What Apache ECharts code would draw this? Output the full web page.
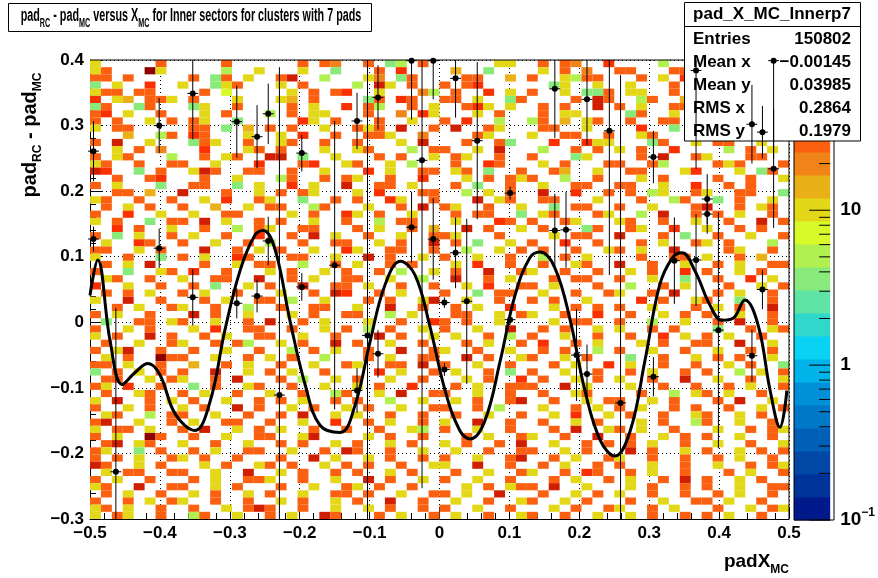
<!DOCTYPE html>
<html><head><meta charset="utf-8">
<script src="https://cdn.jsdelivr.net/npm/echarts@6/dist/echarts.min.js"></script>
<style>html,body{margin:0;padding:0;background:#fff}#c{width:878px;height:578px}</style>
</head><body><div id="c"></div>
<script>
// ---- data ----
const xTickLabels = ['-0.5','-0.4','-0.3','-0.2','-0.1','0','0.1','0.2','0.3','0.4','0.5'];
const yTickLabels = ['-0.3','-0.2','-0.1','0','0.1','0.2','0.3','0.4'];
// heat cells: one string per y bin (top to bottom), one char per x bin (64x64), char = colour band
const heatRows = [
"y.....r. ....r... ...r.ro. .r.gG.r. .....yy. .r.ro..R ....G... ........",
"yr...Dy. ....G..y ...y..g. ..r.R... .a..g... .y.r.o.. rr...rr. ........",
"rr.r.... .r.gr.y. .rd..G.. .yo.gr.. ..rr..a. r..yGrr. ..r.y.R. ........",
"g.y..R.. y..gyr.. .y.r.... G.dy.r.. r.rR.... ..gy..y. .y...r.. ........",
"yrr.rr.. ..r.Y... ..y.r.rR ..y...oG .r..R.y. r..y.ggr .yy..r.. ........",
"R.ya.rry .r...y.. .ya.r... .gr.Rr.. rr.y..gr ....r.dr ..Gr..a. ........",
"gr..gr.. .gy..r.. ..r.y..R .rG..r.y ..rRy.y. .r.r..d. r.y..rr. ........",
"rR.y..r. ..y.r... G.r.yy.. .r..o.Ry ...y.r.. .r.yy... .gr..y.r ........",
"r.r..y.r .ry..g.. ...Ry.r. ..r..y.. r.R..G.. Gr.a.yr. .r..rr.. .....rd.",
"y.rr.... .rr.g.a. r.r..y.. ryr.d..r .d..ry.. .rr..y.. ..R..g.r y..r..r.",
"...a..Gr .Rr...y. .y.R..r. .rry..o. ...ry... y..rr..r ..yr.... r...G.rr",
"r.d..y.. .gry..r. .yr..r.. r...y.d. ..r..rg. ..R..Ryy ...gr..y .rr..y..",
"..y.r.o. ..R...yr .r...y.. yr...G.r r..y.d.. .G..r.r. y.r..R.. ..G.r.y.",
"r.yr...G ..r.yr.. dd.g..y. ..r.r..y .ry..r.. r...gy.. ..r.d..r y...rr..",
"yr..r..r r..y...R ...rR..y r..y.G.. .r..Rr.. .y.r...r r..rG... .ryr...r",
"dR..g.r. .ydr..rr ..r..y.. .R.y..rr .yr.g..r ..ra..y. .rr...yR ...y.gr.",
"..r..rR. ..r..y.. .Gr..r.r y..r..R. ..y.r.ry r..G..r. ..y.r... .r..r..y",
"r.y...g. .rr..g.y ..R.y..d ..rr.y.. .r.g..r. .y..rr.. rr..y..R ..r.r...",
"..rr.a.. d...r..y .r.ry... y.R...rr ..G.y.r. .d..R..r .r.Gy..r y..rr..g",
"yr..r..r ..y.R..r y..g..r. r..Ry..r ...d.yr. .rr...y. ..r..Gr. .g.r..y.",
".r.y.r.. r..a..y. rr..Gr.. .y..r.d. ry..r..y ..g.rr.. r..y...r d..r.yr.",
"r..R..y. .y..rr.. ..y.r..R y.r..y.. .r.rr..g .yr...ry ..G.d..r .r.y..r.",
"y.r..g.r r.d.y..r .r..y..r ..G.rr.. .y...Rr. r..ry... yr..r..y ..r..d.r",
"..R.r..y ..r..G.r y..rr... r.y..r.a ..d.r..y .r...gr. .ry..R.. y..r.r..",
"r.g.y..r .y..r..R ..r.d.y. .r..y..r ry...r.. ..y.rr.. d...r.g. .r..y..r",
".y..Rr.. r..y..r. G..r..rr ..y.r..d .r.g..y. r..R..r. ..r.y..r y.r...G.",
"rr..y.r. ..d..r.y .r..y..R y..rr..r ..G..y.r .r..r..y r.y..d.. ..ry..r.",
"y..r..g. r.y..Rr. ..rr..y. .d.r..y. r..y..r. .G.r.y.. ..r..rr. y..r.a..",
".r.y.d.. ..r..y.r r..G..r. y..r.r.. .y.R..r. .r..yr.. d..r..y. .r.y..rr",
"r..g..yr .R..r... y.r..y.r ..r.G..y .r..d..r y..r..r. .y.r..R. r..y.r..",
".yr..r.. y..rr..d ..r.y..r r..y..G. .d..r.y. ..r.rr.. r..y..g. .r..R.y.",
"R..y..r. .r.g..y. r..d..rr .y..r..r ..y.R..r r.y...r. .G..r.y. ..r..y.r",
".r.r.y.. r.y..r.. .y..r.dR ..r.y... r..g.rr. .y..r..r y..r.d.. .r.y..r.",
"y..d..r. ..r.y..r r.G..y.. .r.r..yd ..y..r.. r.r..y.. ..R.r..y r..g..r.",
"..r.y..r y..r..G. .r..rr.. y..d..r. .r.y..R. ..y.r.r. r..y...r .y.r..d.",
"r.y..r.. .d.r..y. ..y.r..r r..G.y.. .rr..y.r y..r..R. .r..y.r. r..y..r.",
".g..rr.y r..y..r. d..r.y.. .y..r..R r.r..y.. ..y.rr.. r..G..y. .r.d..r.",
"r..y.r.. .y.R..rr ..r..y.r .G.r..y. r..y..d. .r.r..y. y..r.r.. .g..r.yr",
"y.r..d.r ..r.y..r r..y..r. ..d.r..y .y..r.G. r..y..r. .r..R.y. r.y..r..",
".r..y..r y..r.rG. .y.r..d. r..y..r. ..r.y..r .R..r.y. ..y.r..r r..d..y.",
"r.yd..r. .r..y..r ..G.r.y. .r..d..r y..r..y. .r.r..G. r..y..r. .y..r.r.",
".y.r..Dr r..y..r. y.r..G.. .r.y..rr ..d.r..y r..y.r.. .g..r..y .r.r..y.",
"rr.y..r. .a..r.y. .r..y..r y..rr.d. r..y..r. ..r.y..R .y..r..r ..y.r..g",
"g.r.y.r. r..d..y. r.y..r.. ..R.y..r .y..r.g. r..y..r. .r.y..r. r..G.y.r",
".rr..y.r y..r.d.. .r.G..y. r..y..r. ..y.r..R .r..y.r. y..r..d. .y..r..y",
"ry.R..r. .g.r..yr ..r..y.. y.r..R.. .r.y..rr r..d.y.. .y..r..r ..r.y..r",
".r..yr.. r.y..r.. y..r..Gr ..y.d..r r..y..r. .r..yr.. ..r..G.y r.y..r..",
"y.d..r.y .r..y..r .r.y..r. r..G..y. .y.r..rd ..r..y.r r..y.r.. .r.d..y.",
"r..y.r.. y.r..d.r ..y.r..y .r..y..r r..r.G.. .y..r.y. r.y..r.r ..r..y.r",
".yr..G.r r..y..r. .r.d..y. y..r..r. .r..y..r ..y.R..y .r..r..y r..y.r..",
"rd..y..r .y..rr.. r..y..R. .r.y..r. y..d..r. .r..y.r. ..y.r..G r..y..r.",
"y.rr.y.. r.d..y.r .y..r..r ..r..yG. r..y..r. ..r.d..y r.y..r.. .y..r.ry",
"r.y..Dr. .r..y..r r..yd... .y.r..r. ..r.y..r y..r..d. .r..y.r. r..y..r.",
".rd.yr.. y..r..y. .r.r..y. r..y.r.. y.r..r.d ..y..r.r .r.y..r. .y..r..y",
"ry..g.r. .r.y..rr ..y..r.d r..r..y. .y..r..r r..y.r.. .d.r..y. r..y.r.r",
"r.r.y..r y.r..r.. .r..d.y. .y.r..r. r..y..rd ..r.y..r y..r..r. .r.y..r.",
"dr..y.r. ..y.r..y r.r..y.r .r..r..y y..d..r. .r.y..r. r..y..r. .y..r.ry",
".y.rr..r r..y..d. .y.r..r. r..y.r.. .r..y..r y..r.Rr. .r.y..r. ..r.y..r",
"r.y..r.. .r.y..rr y..r..y. .d.r..y. r..y..r. ..r.y..r .y..r.d. r..y.r..",
"yr..d..r r..y.r.. .r..y..r y.r..r.. ..y.r.yr r.d..y.. .y.r..r. r..y..rr",
".r.y..r. .y.r..y. r..y..rr .r..y..r r.y..d.. .r..y.r. y..r..r. .r.y..r.",
"r..r.y.r y..r..r. .y.r..y. r..d..r. .y..r..y r..y.r.. .r..y..r r.y..r..",
"yr.y..r. .r..y.rd r..r..y. .y.r..r. r..y..r. ..y.r..r y..r.y.. .r..y.ry",
"y.ry..r. .Gr..y.. r.y..dr. ..r.y..r .y..r..y r..r..y. .y.r..r. r.y..r.."
];
// profile points: [x, mean, error]
const profX = [-0.495,-0.495,-0.463,-0.401,-0.401,-0.353,-0.353,-0.29,-0.29,-0.261,-0.261,-0.245,-0.245,-0.229,-0.197,-0.197,
 -0.15,-0.118,-0.118,-0.103,-0.088,-0.088,-0.04,-0.04,-0.025,-0.009,-0.009,0.007,0.007,0.023,0.023,0.039,0.054,0.101,0.101,
 0.165,0.165,0.181,0.196,0.211,0.211,0.243,0.259,0.306,0.306,0.336,0.367,0.367,0.383,0.383,0.399,0.447,0.447,0.462,0.462,0.478,0.478];
const profY = [0.261,0.127,-0.228,0.30,0.113,0.349,0.038,0.306,0.029,0.283,0.040,0.318,0.124,-0.111,0.258,0.054,
 0.087,0.307,-0.104,-0.020,0.343,-0.048,0.399,0.145,0.247,0.399,0.127,0.030,-0.072,0.372,0.106,0.032,0.277,0.197,0.004,
 0.356,0.140,0.141,-0.050,0.340,-0.079,0.292,-0.123,0.252,-0.083,0.094,0.384,0.095,0.188,0.165,-0.012,0.302,-0.051,0.290,0.050,0.234,0.399];
const profE = [0.046,0.019,0.25,0.042,0.03,0.07,0.043,0.055,0.023,0.048,0.025,0.046,0.037,0.5,0.028,0.021,
 0.22,0.043,0.034,0.5,0.049,0.036,0.09,0.054,0.5,0.059,0.062,0.008,0.01,0.06,0.054,0.126,0.12,0.01,0.008,
 0.075,0.056,0.058,0.07,0.07,0.045,0.22,0.5,0.04,0.03,0.066,0.15,0.07,0.038,0.03,0.18,0.06,0.04,0.04,0.03,0.09,0.15];
// fitted curve
const fitX = [-0.5,-0.489,-0.471,-0.454,-0.436,-0.417,-0.4,-0.378,-0.35,-0.328,-0.307,-0.285,-0.264,-0.252,-0.235,-0.214,-0.192,-0.171,-0.142,-0.121,-0.099,-0.078,-0.056,-0.035,-0.014,0.008,0.029,0.044,0.065,0.087,0.108,0.129,0.144,0.165,0.187,0.208,0.23,0.251,0.273,0.294,0.315,0.333,0.347,0.366,0.387,0.404,0.42,0.437,0.456,0.473,0.487,0.497];
const fitY = [0.041,0.095,-0.03,-0.095,-0.077,-0.063,-0.08,-0.14,-0.165,-0.12,-0.012,0.08,0.133,0.14,0.11,0.003,-0.096,-0.157,-0.168,-0.127,-0.028,0.057,0.093,0.072,-0.005,-0.104,-0.165,-0.178,-0.15,-0.058,0.041,0.098,0.107,0.083,0.003,-0.104,-0.18,-0.204,-0.165,-0.058,0.057,0.098,0.106,0.077,0.026,0.003,0.006,0.034,-0.005,-0.104,-0.16,-0.104];
const cbMinLog = -1, cbMaxLog = 1.97, nBands = 20;
const bandColors = ['#001a8c','#003399','#0047a6','#0060b8','#0078c8','#0090d8','#00b4ea','#0ad2f5','#30d8cc','#5ee4a4',
 '#88ea7a','#b0f050','#d8fa28','#e2d818','#eab018','#f08418','#fa6010','#fa3000','#d01e00','#8c0000'];
const charBand = {c:7,t:9,g:10,G:11,Y:12,y:13,a:14,o:15,r:16,R:17,d:18,D:19};
const statsRows = [['Entries','150802'],['Mean x','\u22120.00145'],['Mean y','0.03985'],['RMS x','0.2864'],['RMS y','0.1979']];

// ---- build ----
const NX = 64, NY = 64, X0 = -0.5, X1 = 0.5, Y0 = -0.3, Y1 = 0.4;
const dx = (X1-X0)/NX, dy = (Y1-Y0)/NY, bw = (cbMaxLog-cbMinLog)/nBands;
const heat = [];
heatRows.forEach((row, ri) => {
  const s = row.replace(/ /g,'');
  for (let i = 0; i < NX && i < s.length; i++) {
    const b = charBand[s[i]];
    if (b === undefined) continue;
    heat.push([i, NY-1-ri, Math.pow(10, cbMinLog + (b+0.5)*bw)]);
  }
});
function colorOf(v){ let b = Math.floor((Math.log10(v)-cbMinLog)/bw); b=Math.max(0,Math.min(nBands-1,b)); return bandColors[b]; }
const profData = profX.map((x,i)=>[x,profY[i],profE[i]]);
const fitData = fitX.map((x,i)=>[x,fitY[i]]);
const bands = bandColors.map((c,i)=>[i]);
const minorLog = [];
for (let d=-1; d<2; d++) for (let k=2;k<=9;k++){ const v=d+Math.log10(k); if(v<cbMaxLog) minorLog.push([v,0]); }
[-1,0,1].forEach(v=>minorLog.push([v,1]));

const F = '"Liberation Sans", Arial, sans-serif';
const chart = echarts.init(document.getElementById('c'), null, {renderer:'canvas'});
const axLab = {fontFamily:F, fontWeight:'bold', fontSize:17, color:'#000'};
const T = (x,y,text,extra)=>Object.assign({type:'text',x:x,y:y,z:100,style:Object.assign({fontFamily:F,fontWeight:'bold',fontSize:17,fill:'#000',text:text,verticalAlign:'middle'},extra||{})});
chart.setOption({
  animation:false,
  backgroundColor:'#fff',
  grid:[{left:90,top:60,width:699,height:459,show:false},{left:794,top:60,width:40,height:460,show:false}],
  xAxis:[{type:'value',gridIndex:0,min:-0.5,max:0.5,interval:0.1,
    axisLine:{onZero:false,lineStyle:{color:'#000',width:1}},
    axisTick:{inside:true,length:12,lineStyle:{color:'#000'}},
    minorTick:{show:true,splitNumber:5,length:6,lineStyle:{color:'#000'}},
    splitLine:{show:true,lineStyle:{color:'#000',type:[1,3],width:1}},
    axisLabel:Object.assign({margin:6,formatter:v=>{const i=Math.round((v+0.5)*10);return (xTickLabels[i]||'').replace('-','\u2212');}},axLab)},
   {type:'value',gridIndex:1,min:0,max:1,show:false}],
  yAxis:[{type:'value',gridIndex:0,min:-0.3,max:0.4,interval:0.1,
    axisLine:{onZero:false,lineStyle:{color:'#000',width:1}},
    axisTick:{inside:true,length:12,lineStyle:{color:'#000'}},
    minorTick:{show:true,splitNumber:5,length:6,lineStyle:{color:'#000'}},
    splitLine:{show:true,lineStyle:{color:'#000',type:[1,3],width:1}},
    axisLabel:Object.assign({margin:6,formatter:v=>{const i=Math.round((v+0.3)*10);return (yTickLabels[i]||'').replace('-','\u2212');}},axLab)},
   {type:'value',gridIndex:1,min:cbMinLog,max:cbMaxLog,position:'right',interval:1,
    axisLine:{show:false},axisTick:{show:false},splitLine:{show:false},
    axisLabel:{margin:10,showMaxLabel:false,fontFamily:F,fontWeight:'bold',fontSize:19,color:'#000',
      formatter:v=>v===-1?'10{s|\u22121}':(v===0?'1':(v===1?'10':'')),
      rich:{s:{fontSize:12,fontWeight:'bold',fontFamily:F,verticalAlign:'top',padding:[0,0,14,0]}}}}],
  series:[
   {type:'custom',xAxisIndex:0,yAxisIndex:0,data:heat,clip:true,z:1,
    renderItem:(p,api)=>{const i=api.value(0),j=api.value(1);
      const a=api.coord([X0+i*dx,Y0+(j+1)*dy]),b=api.coord([X0+(i+1)*dx,Y0+j*dy]);
      return {type:'rect',shape:{x:a[0],y:a[1],width:b[0]-a[0],height:b[1]-a[1]},style:{fill:colorOf(api.value(2))}};}},
   {type:'line',xAxisIndex:0,yAxisIndex:0,data:fitData,smooth:0.4,symbol:'none',z:5,lineStyle:{color:'#000',width:3}},
   {type:'custom',xAxisIndex:1,yAxisIndex:1,data:bands,z:2,
    renderItem:(p,api)=>{const i=api.value(0);const a=api.coord([0,cbMinLog+(i+1)*bw]),b=api.coord([1,cbMinLog+i*bw]);
      return {type:'rect',shape:{x:a[0],y:a[1],width:b[0]-a[0],height:b[1]-a[1]+0.5},style:{fill:bandColors[i]}};}},
   {type:'custom',xAxisIndex:1,yAxisIndex:1,data:minorLog,z:3,
    renderItem:(p,api)=>{const v=api.value(0),maj=api.value(1)===1;const a=api.coord([1,v]);
      return {type:'line',shape:{x1:a[0],y1:a[1],x2:a[0]-(maj?21:11),y2:a[1]},style:{stroke:'#000',lineWidth:1}};}},
   {type:'custom',xAxisIndex:0,yAxisIndex:0,data:profData,clip:false,z:200,
    renderItem:(p,api)=>{const x=api.value(0),y=api.value(1),e=api.value(2);
      const clamp=v=>Math.max(Y0,Math.min(Y1,v));
      const c=api.coord([x,y]),t=api.coord([x,clamp(y+e)]),bt=api.coord([x,clamp(y-e)]),l=api.coord([x-dx/2,y]),r=api.coord([x+dx/2,y]);
      return {type:'group',children:[
        {type:'line',shape:{x1:t[0],y1:t[1],x2:bt[0],y2:bt[1]},style:{stroke:'#000',lineWidth:1}},
        {type:'line',shape:{x1:l[0],y1:l[1],x2:r[0],y2:r[1]},style:{stroke:'#000',lineWidth:1}},
        {type:'circle',shape:{cx:c[0],cy:c[1],r:3},style:{fill:'#000'}}]};}}
  ],
  graphic:[
   {type:'rect',z:50,shape:{x:794,y:60,width:40,height:460},style:{fill:'none',stroke:'#000',lineWidth:1}},
   {type:'line',z:50,shape:{x1:90,y1:60,x2:789,y2:60},style:{stroke:'#000'}},
   {type:'line',z:50,shape:{x1:789,y1:60,x2:789,y2:519},style:{stroke:'#000'}},
   {type:'rect',z:90,shape:{x:8.5,y:3.5,width:363,height:28},style:{fill:'#fff',stroke:'#000',lineWidth:1}},
   {type:'text',x:191,y:16,scaleX:0.6,z:100,style:{align:'center',verticalAlign:'middle',fontFamily:F,fontWeight:'bold',fontSize:18,fill:'#000',
     text:'pad{s|RC} - pad{s|MC} versus X{s|MC} for Inner sectors for clusters with 7 pads',
     rich:{s:{fontSize:12,fontWeight:'bold',fontFamily:F,padding:[16,0,0,0]}}}},
   {type:'rect',z:90,shape:{x:684.5,y:2.5,width:176,height:138.5},style:{fill:'#fff',stroke:'#000',lineWidth:1}},
   {type:'line',z:91,shape:{x1:684.5,y1:26.5,x2:860.5,y2:26.5},style:{stroke:'#000'}},
   T(772,14,'pad_X_MC_Innerp7',{align:'center'}),
   ...statsRows.flatMap((r,i)=>[T(693,39+i*23,r[0],{align:'left'}),T(851,39+i*23,r[1],{align:'right'})]),
   {type:'text',x:30,y:135,rotation:Math.PI/2,z:100,style:{align:'center',verticalAlign:'middle',fontFamily:F,fontWeight:'bold',fontSize:20,fill:'#000',
     text:'pad{s|RC} - pad{s|MC}',rich:{s:{fontSize:12,fontWeight:'bold',fontFamily:F,padding:[16,0,0,0]}}}},
   {type:'text',x:789,y:562,z:100,style:{align:'right',verticalAlign:'middle',fontFamily:F,fontWeight:'bold',fontSize:19,fill:'#000',
     text:'padX{s|MC}',rich:{s:{fontSize:12,fontWeight:'bold',fontFamily:F,padding:[16,0,0,0]}}}}
  ]
});
</script></body></html>
